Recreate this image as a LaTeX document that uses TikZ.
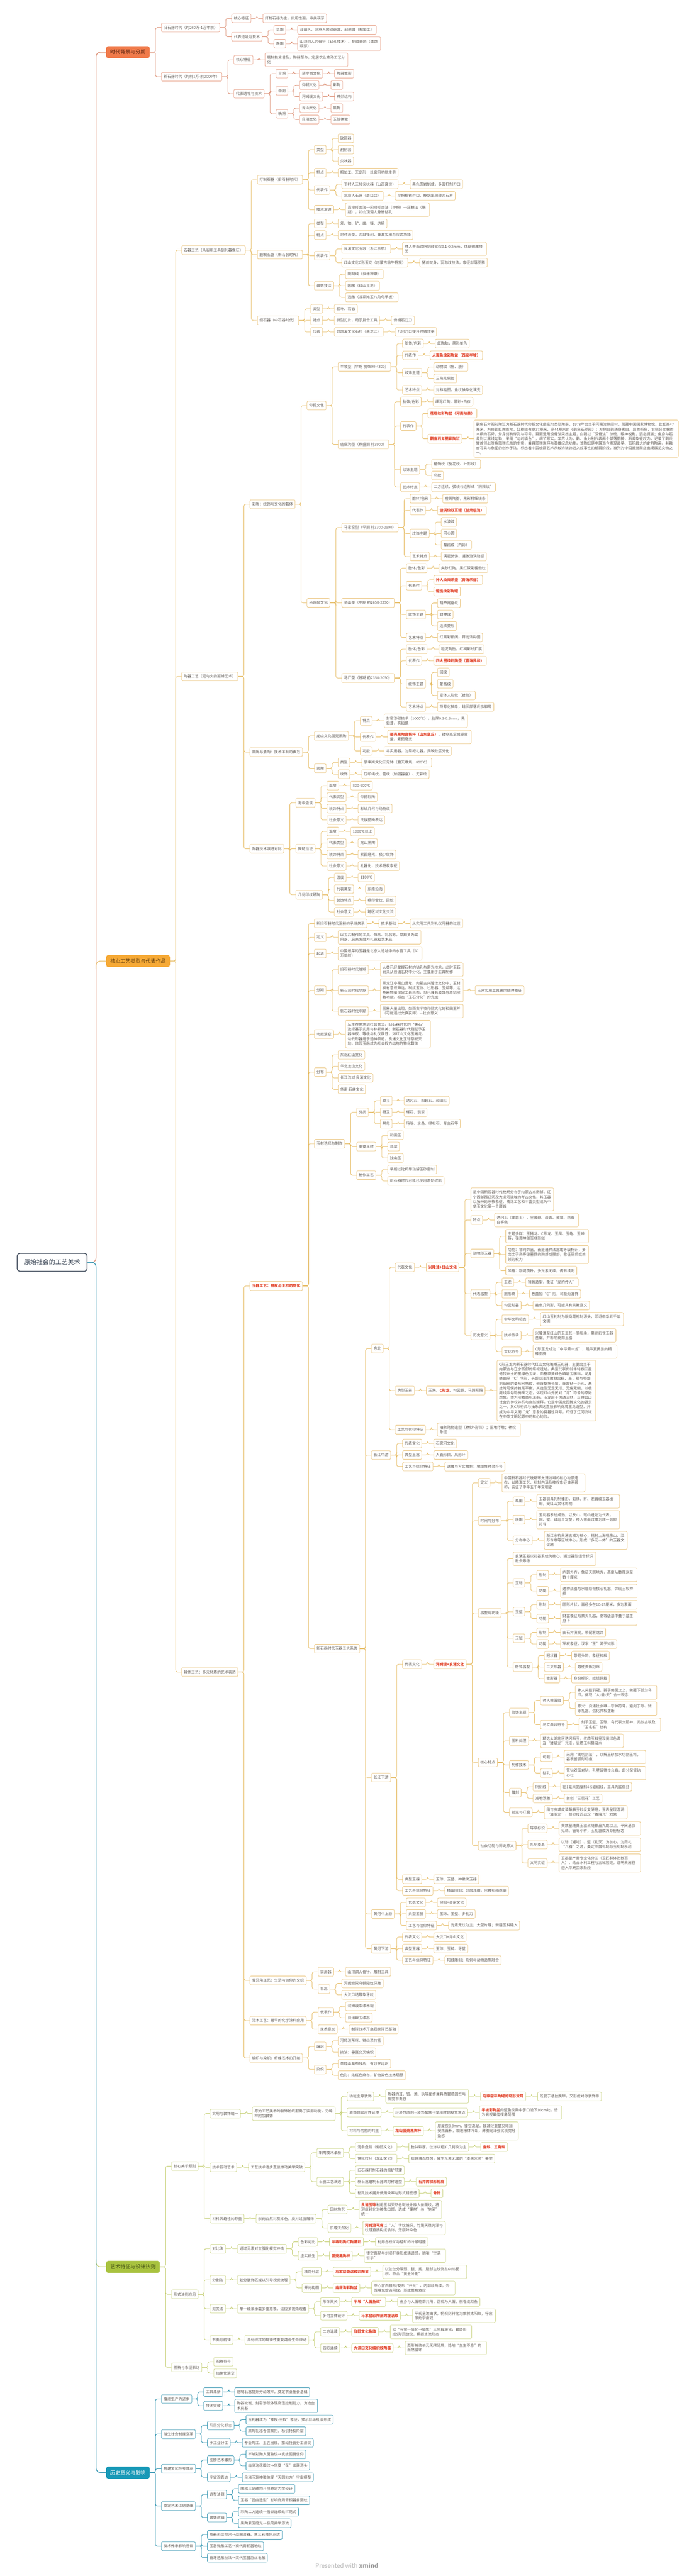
\documentclass[tikz,border=0pt]{standalone}
\usepackage{fontspec}
\setmainfont{Noto Sans CJK SC}
\usepackage{forest}
\XeTeXlinebreaklocale "zh"
\XeTeXlinebreakskip=0pt plus 1pt
\definecolor{txt}{HTML}{625C56}
\definecolor{redt}{HTML}{E2452B}
\definecolor{rootc}{HTML}{2F3B4C}
\definecolor{wm}{HTML}{B4B4B4}
\definecolor{wmb}{HTML}{9C9C9C}
\definecolor{c1}{HTML}{E8A48C}
\definecolor{c1f}{HTML}{F07A4A}
\definecolor{e1}{HTML}{DB8C70}
\definecolor{t1}{HTML}{5A2410}
\definecolor{c2}{HTML}{EBC681}
\definecolor{c2f}{HTML}{F6A935}
\definecolor{e2}{HTML}{E7BD66}
\definecolor{t2}{HTML}{5A380A}
\definecolor{c3}{HTML}{CDD68B}
\definecolor{c3f}{HTML}{A8C23E}
\definecolor{e3}{HTML}{C3CD6E}
\definecolor{t3}{HTML}{3A4612}
\definecolor{c4}{HTML}{3F9AB5}
\definecolor{c4f}{HTML}{1899B7}
\definecolor{e4}{HTML}{2A91AF}
\newcommand\redb[1]{{\color{redt}\bfseries #1}}
\newcommand\mlt[2]{\parbox{#1pt}{\raggedright #2}}
\def\topy{2584pt}
\def\boty{-2687pt}
\forestset{
  begin draw/.code={\pgfmathsetmacro\kk{(2584+2687)/(\topy-\boty)}\pgfmathsetmacro\TT{38+\kk*\topy}%
    \begin{tikzpicture}[x=1pt,y=1pt]
    \useasboundingbox (-35,\TT) rectangle ++(1440,-5347);
    \fill[white] (-35,\TT) rectangle ++(1440,-5347);
    \node[font=\fontsize{12.5}{14}\selectfont, text=wm, inner sep=0pt] (watermark) at (685,\TT-5325) {Presented with {\color{wmb}\bfseries xmind}};
    \begin{scope}[yscale=\kk]},
  end draw/.code={\end{scope}\end{tikzpicture}},
  mm/.style={for tree={grow'=0, anchor=west, child anchor=west, parent anchor=east, calign=midpoint, l=0pt, l sep=24pt, s sep=5.5pt, fit=band, font=\fontsize{7.7}{9.8}\selectfont, text=txt, draw, fill=white, rounded corners=2.5pt, line width=0.8pt, inner xsep=4.5pt, inner ysep=5.5pt, minimum height=18pt, edge={draw, rounded corners=4pt, line width=0.9pt}, edge path={\noexpand\path[\forestoption{edge}] (!u.parent anchor) -- ++(12pt,0pt) |- (.child anchor);}}},
  rootst/.style={font=\fontsize{13}{15}\selectfont, draw=rootc, text=rootc, line width=1.4pt, rounded corners=5pt, minimum height=37pt, inner xsep=14pt, s sep=21pt, l sep=39pt},
  br/.style n args={4}{fill=#1, draw=#1, text=#4, font=\fontsize{10.5}{12}\selectfont, inner xsep=8pt, minimum height=24pt, rounded corners=4pt, for descendants={draw=#2, edge={draw=#3, rounded corners=4pt, line width=0.9pt}}, edge={draw=#3, rounded corners=9pt, line width=1.3pt}, edge path={\noexpand\path[\forestoption{edge}] (!u.parent anchor) -- ++(18pt,0pt) |- (.child anchor);}},
  spineup/.style={edge path={\noexpand\path[\forestoption{edge}] (.child anchor) ++(-21pt,-16pt) |- (.child anchor);}},
  spinedown/.style={edge path={\noexpand\path[\forestoption{edge}] (.child anchor) ++(-21pt,16pt) |- (.child anchor);}},
  gettop/.style={before drawing tree={TeX={\xdef\topy{\forestoption{y}}}}},
  getbot/.style={before drawing tree={TeX={\xdef\boty{\forestoption{y}}}}}
}
\begin{document}
\begin{forest}
[原始社会的工艺美术, mm, rootst
 [时代背景与分期, br={c1f}{c1}{e1}{t1}
  [旧石器时代（约260万-1万年前）
   [核心特征 [打制石器为主，实用性强，审美萌芽, gettop]]
   [代表遗址与技术
    [早期 [蓝田人、北京人的砍砸器、刮削器（粗加工）]]
    [晚期 [\mlt{163}{山顶洞人的骨针（钻孔技术）、刻纹鹿角（装饰萌芽）}]]]]
  [新石器时代（约前1万-前2000年）
   [核心特征 [\mlt{163}{磨制技术普及，陶器革命，定居农业推动工艺分化}]]
   [代表遗址与技术
    [早期 [裴李岗文化 [陶器雏形]]]
    [中期 [仰韶文化 [彩陶]] [河姆渡文化 [榫卯结构]]]
    [晚期 [龙山文化 [黑陶]] [良渚文化 [玉琮神徽]]]]]]
 [核心工艺类型与代表作品, br={c2f}{c2}{e2}{t2}, spineup
  [石器工艺（从实用工具到礼器象征）
   [打制石器（旧石器时代）
    [类型 [砍砸器] [刮削器] [尖状器]]
    [特点 [粗加工、无定形，以实用功能主导]]
    [代表作 [丁村人三棱尖状器（山西襄汾） [黑色页岩制成，多面打制刃口]] [北京人石器（周口店） [早期粗钝刃口，晚期出现薄刃石片]]]
    [技术演进 [\mlt{165}{直接打击法→间接打击法（中期）→压制法（晚期），如山顶洞人骨针钻孔}]]]
   [磨制石器（新石器时代）
    [类型 [斧、锛、铲、凿、镰、纺轮]]
    [特点 [对称造型，刃部锋利，兼具实用与仪式功能]]
    [代表作 [良渚文化玉琮（浙江余杭） [\mlt{165}{神人兽面纹阴刻线宽仅0.1-0.2mm，体现微雕技艺}]] [红山文化C形玉龙（内蒙古翁牛特旗） [猪首蛇身，瓦沟纹技法，象征部落图腾]]]
    [装饰技法 [阴刻线（良渚神徽）] [圆雕（红山玉龙）] [透雕（凌家滩玉八角龟甲板）]]]
   [细石器（中石器时代）
    [类型 [石叶、石镞]]
    [特点 [微型刃片，用于复合工具 [骨柄石刃刀]]]
    [代表 [昂昂溪文化石叶（黑龙江） [几何刃口提升狩猎效率]]]]]
  [陶器工艺（泥与火的巅峰艺术）
   [彩陶：纹饰与文化的载体
    [仰韶文化
     [半坡型（早期 前4800-4300）
      [胎体/色彩 [红陶胎，黑彩单色]]
      [代表作 [\redb{人面鱼纹彩陶盆（西安半坡）}]]
      [纹饰主题 [动物纹（鱼、鹿）] [三角几何纹]]
      [艺术特点 [对称构图，鱼纹抽象化演变]]]
     [庙底沟型（鼎盛期 前3900）
      [胎体/色彩 [细泥红陶，黑彩+白衣]]
      [代表作 [\redb{花瓣纹彩陶盆（河南陕县）}] [\redb{鹳鱼石斧图彩陶缸} [\mlt{415}{鹳鱼石斧图彩陶缸为新石器时代仰韶文化庙底沟类型陶器，1978年出土于河南汝州阎村，现藏中国国家博物馆。此缸高47厘米，为夹砂红陶质地，缸腹绘有高37厘米、宽44厘米的《鹳鱼石斧图》：左侧白鹳通身素白，昂首衔鱼，右侧竖立捆绑木柄的石斧，斧身刻有穿孔与符号。画面运用没骨法突出主题，白鹳以“没骨法”涂绘，眼神锐利，姿态挺拔；鱼身与石斧则以黑线勾勒，采用“勾线填色”，细节写实。学界认为，鹳、鱼分别代表两个部落图腾，石斧象征权力，记录了鹳氏族首领战胜鱼图腾氏族的史实，兼具图腾崇拜与英雄纪念功能。该陶缸是中国迄今发现最早、面积最大的史前陶画，其融合写实与象征的创作手法，标志着中国绘画艺术从纹饰装饰进入叙事性的绘画阶段，被列为中国首批禁止出境展览文物之一。}]]]
      [纹饰主题 [植物纹（旋花纹、叶形纹）] [鸟纹]]
      [艺术特点 [二方连续，弧线勾连形成“阴阳纹”]]]]
    [马家窑文化
     [马家窑型（早期 前3300-2900）
      [胎体/色彩 [橙黄陶胎，黑彩精细线条]]
      [代表作 [\redb{漩涡纹双耳罐（甘肃临洮）}]]
      [纹饰主题 [水波纹] [同心圆] [舞蹈纹（内彩）]]
      [艺术特点 [满密装饰，通体漩涡动感]]]
     [半山型（中期 前2650-2350）
      [胎体/色彩 [夹砂红陶，黑红双彩锯齿纹]]
      [代表作 [\redb{神人纹双系壶（青海乐都）}] [\redb{锯齿纹彩陶罐}]]
      [纹饰主题 [葫芦网格纹] [蛙神纹] [连续菱形]]
      [艺术特点 [红黑彩相间，开光法构图]]]
     [马厂型（晚期 前2350-2050）
      [胎体/色彩 [粗泥陶胎，红褐彩绘扩展]]
      [代表作 [\redb{四大圈纹彩陶壶（青海民和）}]]
      [纹饰主题 [回纹] [菱格纹] [变体人形纹（蛙纹）]]
      [艺术特点 [符号化抽象，暗示部落氏族徽号]]]]]
   [黑陶与素陶：技术革新的典范
    [龙山文化蛋壳黑陶
     [特点 [\mlt{164}{封窑渗碳技术（1000℃），胎厚0.3-0.5mm，黑如漆，亮如镜}]]
     [代表作 [\mlt{164}{\redb{蛋壳黑陶高柄杯（山东章丘）}，镂空高足减轻重量，素面磨光}]]
     [功能 [非实用器，为祭祀礼器，反映阶层分化]]]
    [素陶
     [类型 [裴李岗文化三足钵（露天堆烧，800℃）]]
     [纹饰 [压印绳纹、篦纹（加固器身）、无彩绘]]]]
   [陶器技术演进对比
    [泥条盘筑 [温度 [800-900℃]] [代表类型 [仰韶彩陶]] [装饰特点 [彩绘几何与动物纹]] [社会意义 [氏族图腾表达]]]
    [快轮拉坯 [温度 [1000℃以上]] [代表类型 [龙山黑陶]] [装饰特点 [素面磨光，极少纹饰]] [社会意义 [礼器化，技术特权象征]]]
    [几何印纹硬陶 [温度 [1100℃]] [代表类型 [东南沿海]] [装饰特点 [模印雷纹、回纹]] [社会意义 [跨区域文化交流]]]]]
  [其他工艺：多元材质的艺术表达
   [\redb{玉器工艺：神权与王权的物化}
    [新旧石器时代玉器的承继关系 [技术基础 [从实用工具到礼仪用器的过渡]]]
    [定义 [\mlt{163}{以玉石制作的工具、饰品、礼器等，早期多为实用器，后来发展为礼器和艺术品}]]
    [起源 [\mlt{165}{中国最早的玉器是北京人遗址中的水晶工具（60万年前）}]]
    [分期
     [旧石器时代晚期 [\mlt{163}{人类已经掌握石材的钻孔与磨光技术，此时玉石尚未从普通石材中分化，主要用于工具制作}]]
     [新石器时代早期 [\mlt{163}{黑龙江小南山遗址、内蒙古兴隆洼文化中，玉材被有意识筛选，制成玉玦、匕形器、玉斧等，这些器物虽保留工具形态，但已兼具装饰与原始宗教功能，标志“玉石分化”的完成} [玉从实用工具转向精神象征]]]
     [新石器时代中期 [\mlt{163}{玉器大量出现，如西安半坡仰韶文化的和田玉斧（可能通过交换获得）—社会意义}]]]
    [功能演变 [\mlt{167}{从生存需求到社会意义。旧石器时代的“美石”选择基于实用与朴素审美；新石器时代则赋予玉器神权、等级与礼仪属性，如红山文化玉猪龙、勾云形器用于通神祭祀，良渚文化玉琮祭祀天地，体现玉器成为社会权力结构的物化载体}]]
    [分布 [东北红山文化] [华北龙山文化] [长江流域 良渚文化] [华南 石峡文化]]
    [玉材选择与制作
     [分类 [软玉 [透闪石、阳起石、和田玉]] [硬玉 [辉石、翡翠]] [其他 [玛瑙、水晶、绿松石、青金石等]]]
     [重要玉材 [和田玉] [翡翠] [独山玉]]
     [制作工艺 [早期以砣机带动解玉砂磨制] [新石器时代可能已使用原始砣机]]]
    [新石器时代玉器五大系统
     [东北
      [代表文化 [\redb{兴隆洼+红山文化}
        [\mlt{163}{是中国新石器时代晚期分布于内蒙古东南部、辽宁西部西辽河及大凌河流域的考古文化，其玉器以独特的宗教象征、精湛工艺和丰富类型成为中华玉文化第一个巅峰}]
        [特点 [\mlt{165}{透闪石（岫岩玉），呈黄绿、淡青、黄褐、鸡骨白等色}]]
        [动物形玉器 [\mlt{163}{主题多样：玉猪龙、C形龙、玉凤、玉龟、玉蝉等，强调神似而非形似}] [\mlt{163}{功能：非纯饰品，而是通神法器或等级标识，多出土于高等级墓葬的胸部或腰部，象征巫师或首领的权力}] [风格：刚健质朴，多光素无纹，偶有线刻]]
        [代表器型 [玉龙 [猪首造型，象征“龙的传人”]] [圆形玦 [卷曲如“C”形，可能为耳饰]] [勾云形器 [抽象几何形，可能具有宗教意义]]]
        [历史意义 [中华文明标志 [\mlt{163}{红山玉礼制为殷商周礼制源头，印证中华五千年文明}]] [技术传承 [\mlt{163}{兴隆洼至红山的玉工艺一脉相承，奠定后世玉器基础，并影响商周玉器}]] [文化符号 [\mlt{165}{C形玉龙成为“中华第一龙”，是华夏民族的精神图腾}]]]]]
      [典型玉器 [玉玦、\redb{C形龙}、勾云佩、马蹄形箍 [\mlt{196}{C形玉龙为新石器时代红山文化晚期玉礼器，主要出土于内蒙古与辽宁西部的祭祀遗址。典型代表如翁牛特旗三星他拉出土的墨绿色玉龙，由整块黄绿色岫岩玉雕琢，龙身蜷曲呈“C”字形，头部以浅浮雕刻出眼、鼻，额与颚部刻细密的菱形网格纹，颈背飘扬长鬣，背部钻一小孔，悬挂时可保持首尾平衡。其造型无足无爪、无角无鳞，以极简线条勾勒腾跃之态，体现红山先民对“龙”符号的原始想象。作为宗教祭祀法器，玉龙用于沟通天地，反映红山社会的神权体系与自然崇拜。它是中国龙图腾文化的源头之一，其C形构式与抽象表达直接影响商周玉龙造型，并成为中华文明“龙”意象的奠基性符号，印证了辽河流域在中华文明起源中的核心地位。}]]]
      [工艺与信仰特征 [\mlt{163}{抽象动物造型（神似>形似）；压地浮雕；神权象征}]]]
     [长江中游
      [代表文化 [石家河文化]]
      [典型玉器 [人面形佩、凤形环]]
      [工艺与信仰特征 [透雕与写实雕刻；地域性神灵符号]]]
     [长江下游
      [代表文化 [\redb{河姆渡+良渚文化}
        [定义 [\mlt{163}{中国新石器时代晚期环太湖流域的核心物质遗存，以精湛工艺、礼制内涵及神权象征体系著称，实证了中华五千年文明史}]]
        [时间与分布
         [早期 [\mlt{163}{玉器初具礼制雏形，如璜、环、龙首纹玉器出现，受红山文化影响}]]
         [晚期 [\mlt{163}{玉礼器系统成熟，以反山、瑶山遗址为代表，琮、璧、钺组合定型，神人兽面纹成为统一信仰符号}]]
         [分布中心 [\mlt{163}{浙江余杭良渚古城为核心，辐射上海福泉山、江苏寺墩等区域中心，形成“多元一体”的玉器文化圈}]]]
        [器型与功能
         [\mlt{163}{良渚玉器以礼器系统为核心，通过器型组合标识社会等级}]
         [玉琮 [形制 [\mlt{150}{内圆外方，象征天圆地方，高度从数厘米至数十厘米}]] [功能 [\mlt{150}{通神法器与宗庙祭祀核心礼器，体现王权神授}]]]
         [玉璧 [形制 [\mlt{150}{圆形片状，直径多在10-25厘米，多为素面}]] [功能 [\mlt{150}{财富象征与祭天礼器，高等级墓中叠于墓主身下}]]]
         [玉钺 [形制 [由石斧演变，带配套端饰]] [功能 [军权象征，汉字“王”源于钺形]]]
         [特殊器型 [冠状器 [祭司头饰，象征神权]] [三叉形器 [男性贵族冠饰]] [锥形器 [身份标识，成组佩戴]]]]
        [核心特点
         [纹饰主题 [神人兽面纹 [\mlt{160}{神人头戴羽冠，骑于兽面之上，兽面下部为鸟爪，体现“人-兽-天”合一观念}] [\mlt{160}{意义：良渚社会唯一宗神符号，遍刻于琮、钺等礼器，强化神权垄断}]] [鸟立高台符号 [\mlt{160}{刻于玉璧、玉琮，鸟代表太阳神，类似古埃及“王名框”结构}]]]
         [玉料处理 [\mlt{163}{精选太湖地区透闪石玉，优质玉料呈现黄绿色调及“玻璃光”光泽，劣质玉料易吸水}]]
         [制作技术 [切割 [\mlt{160}{采用“线切割法”，以解玉砂加水切割玉料，器表留弧形切痕}]] [钻孔 [\mlt{160}{管钻双面对钻，孔壁留错位台痕，部分保留钻心柱}]]]
         [雕刻 [阴刻线 [在1毫米宽度刻4-5道细线，工具为鲨鱼牙]] [减地浮雕 [首创“三层花”工艺]]]
         [抛光与打磨 [\mlt{163}{用竹皮或皮革蘸解玉砂反复研磨，玉表呈现温润“油脂光”，部分接近战汉“玻璃光”效果}]]]
        [社会功能与历史意义
         [等级标识 [\mlt{160}{贵族墓随葬玉器占随葬品九成以上，平民墓仅见珠、管等小件，玉礼器成为身份标志}]]
         [礼制奠基 [\mlt{160}{以琮（通地）、璧（礼天）为核心，为周礼“六器”之源，奠定中国礼制与玉礼制系统}]]
         [文明实证 [\mlt{160}{玉器量产需专业化分工（玉匠群体达数百人），结合水利工程与古城营建，证明良渚已迈入早期国家阶段}]]]]]
      [典型玉器 [玉琮、玉璧、神徽纹玉器]]
      [工艺与信仰特征 [精细阴刻；分层浮雕，宗教礼器鼎盛]]]
     [黄河中上游
      [代表文化 [仰韶+齐家文化]]
      [典型玉器 [玉琮、玉璧、多孔刀]]
      [工艺与信仰特征 [光素无纹为主；大型片雕；新疆玉料输入]]]
     [黄河下游
      [代表文化 [大汶口+龙山文化]]
      [典型玉器 [玉琮、玉钺、牙璧]]
      [工艺与信仰特征 [阳线雕刻；几何与动物造型融合]]]]]
   [骨牙角工艺：生活与信仰的交织 [实用器 [山顶洞人骨针、雕刻工具]] [礼器 [河姆渡双鸟朝阳纹牙雕] [大汶口透雕象牙梳]]]
   [漆木工艺：最早的化学涂料应用 [代表作 [河姆渡朱漆木碗] [良渚嵌玉漆器]] [技术意义 [制漆技术开启后世漆艺基础]]]
   [编织与染织：纤维艺术的开端 [编织 [河姆渡苇席、钱山漾竹篮] [技法：垂直交叉编织]] [染织 [草鞋山葛布残片，有纱罗组织] [色彩：朱红色麻布，矿物染色技术萌芽]]]]]
 [艺术特征与设计法则, br={c3f}{c3}{e3}{t3}, spinedown
  [核心美学原则
   [实用与装饰统一
    [\mlt{163}{原始工艺美术的装饰始终服务于实用功能，无纯粹附加装饰}
     [功能主导装饰 [\mlt{163}{陶器的耳、钮、流、执等部件兼具持握稳固性与视觉节奏感} [\redb{马家窑彩陶罐的环形双耳} [既便于悬挂携带，又形成对称装饰带]]]]
     [装饰的实用性延伸 [经济性原则—装饰聚焦于使用时的视觉焦点 [\mlt{162}{\redb{半坡彩陶盆}内壁鱼纹集中于口沿下10cm处，恰为俯视最佳视角范围}]]]
     [材料与功能的共生 [\redb{龙山蛋壳黑陶杯} [\mlt{163}{厚度仅0.3mm，镂空高足，既减轻重量又增加受热面积，加速液体冷却，薄胎光泽强化视觉轻盈感}]]]]]
   [技术驱动艺术
    [工艺技术进步直接推动美学突破
     [制陶技术革新 [泥条盘筑（仰韶文化） [胎体较厚，纹饰以粗犷几何纹为主 [\redb{鱼纹、三角纹}]]] [快轮拉坯（龙山文化） [胎体薄而均匀，催生光素无纹的“漆黑光亮”美学]]]
     [石器工艺演进 [旧石器打制石器的粗犷肌理] [新石器磨制石器的对称造型 [\redb{石斧的梯形轮廓}]] [钻孔技术提升使用效率与形式精密感 [\redb{骨针}]]]]]
   [材料天趣性的尊重
    [崇尚自然材质本色，反对过度雕饰
     [因材施艺 [\mlt{162}{\redb{良渚玉琮}利用玉料天然色斑设计神人兽面纹，将瑕疵转化为神像口部，达成“理材”与“施采”统一}]]
     [肌理天然化 [\mlt{162}{\redb{河姆渡苇席}以“人”字纹编织，竹篾天然光泽与纹理直接构成装饰，无额外染色}]]]]]
  [形式法则应用
   [对比法 [通过元素对立强化视觉冲击
     [色彩对比 [\redb{半坡彩陶红陶黑彩} [利用赤铁矿与锰矿的冷暖碰撞]]]
     [虚实相生 [\redb{蛋壳黑陶杯} [\mlt{160}{镂空高足与封闭杯身形成通透感，暗喻“空满哲学”}]]]]]
   [分割法 [划分装饰区域以引导视觉流程
     [横向分层 [\redb{马家窑漩涡纹彩陶瓮} [\mlt{165}{以弦纹分隔颈、腹、底，腹部主纹饰占60\%面积，符合“黄金分割”}]]]
     [开光构图 [\redb{庙底沟彩陶盆} [\mlt{164}{中心留白圆形/菱形“开光”，内部绘鸟纹，外围填充旋涡网纹，形成聚焦效应}]]]]]
   [双关法 [单一线条承载多重意象，适应多视角观看
     [形体双关 [\redb{半坡“人面鱼纹”} [鱼身与人面轮廓共用，正视为人面，侧看成双鱼]]]
     [多向立体设计 [\redb{马家窑彩陶瓮的旋涡纹} [\mlt{163}{平视呈波曲状，俯视则转化为放射太阳纹，呼应原始宇宙观}]]]]]
   [节奏与韵律 [几何纹样的规律性重复蕴含生命律动
     [二方连续 [\redb{仰韶文化鱼纹} [\mlt{160}{以“写实→简化→抽象”三阶段演化，最终形成S形回旋纹，模拟水流动态}]]]
     [四方连续 [\redb{大汶口文化编织纹陶器} [\mlt{160}{菱形格纹单元无限延展，隐喻“生生不息”的自然循环}]]]]]]
  [图腾与象征表达 [图腾符号] [抽象化演变]]]
 [历史意义与影响, br={c4f}{c4}{e4}{white}
  [推动生产力进步 [工具革新 [磨制石器提升劳动效率，奠定农业社会基础]] [技术突破 [\mlt{163}{陶器轮制、封窑渗碳体现高温控制能力，为冶金术奠基}]]]
  [催生社会制度变革 [阶层分化标志 [玉礼器成为“神权-王权”象征，预示阶级社会形成] [黑陶礼器专供祭祀，标识特权阶层]] [手工业分工 [专业陶工、玉匠出现，推动社会分工深化]]]
  [构建文化符号体系 [图腾艺术雏形 [半坡彩陶人面鱼纹→氏族图腾信仰] [庙底沟花瓣纹→华夏“花”崇拜源头]] [宇宙观表达 [良渚玉琮神徽体现“天圆地方”宇宙模型]]]
  [奠定艺术法则基础 [造型法则 [陶器三足结构开创稳定力学设计] [玉器“圆曲造型”影响商周青铜器兽面纹]] [装饰逻辑 [彩陶二方连续→后世连续纹样范式] [黑陶素面磨光→极简美学源流]]]
  [技术传承影响后世 [陶器彩绘技术→战国漆器、唐三彩釉色系统] [玉器微雕工艺→商代青铜器地纹] [骨牙透雕技法→汉代玉器游丝毛雕, getbot]]]]
\end{forest}
\end{document}
